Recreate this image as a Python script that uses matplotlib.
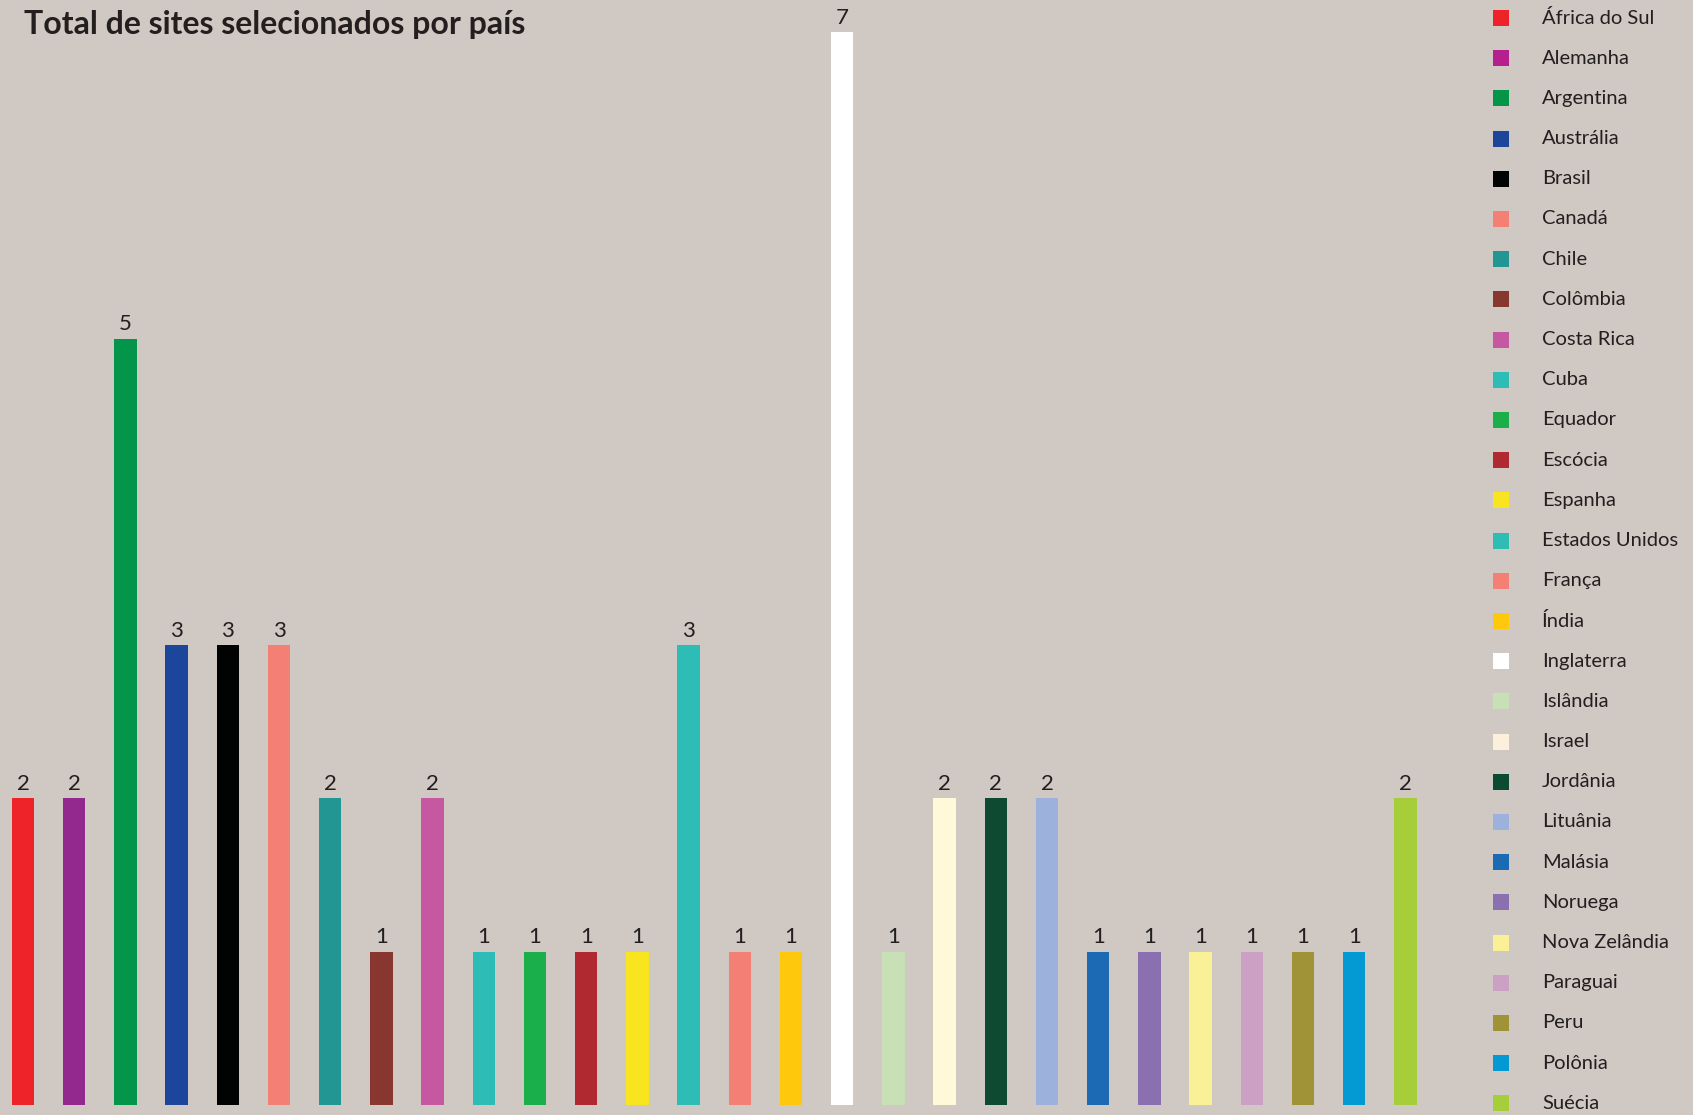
import matplotlib
matplotlib.use("Agg")
import matplotlib.pyplot as plt

countries = ["África do Sul", "Alemanha", "Argentina", "Austrália", "Brasil", "Canadá",
             "Chile", "Colômbia", "Costa Rica", "Cuba", "Equador", "Escócia", "Espanha",
             "Estados Unidos", "França", "Índia", "Inglaterra", "Islândia", "Israel",
             "Jordânia", "Lituânia", "Malásia", "Noruega", "Nova Zelândia", "Paraguai",
             "Peru", "Polônia", "Suécia"]
sites = [2, 2, 5, 3, 3, 3, 2, 1, 2, 1, 1, 1, 1, 3, 1, 1, 7, 1, 2, 2, 2, 1, 1, 1, 1, 1, 1, 2]
bar_colors = ["#EE2229", "#93298E", "#03964A", "#1C469C", "#010202", "#F48075",
              "#219692", "#87372F", "#C558A0", "#2EBCB6", "#1BAF4B", "#B02930", "#F8E41F",
              "#2EBCB6", "#F48075", "#FEC80C", "#FFFFFF", "#C8E0B6", "#FFF9DA",
              "#0E4A31", "#9CB1DC", "#1C69B4", "#8A6FB1", "#FAF098", "#CC9FC5",
              "#A09237", "#0399D3", "#A6CD3A"]
legend_colors = ["#EE2229", "#B5208E", "#03964A", "#1C469C", "#010202", "#F48075",
                 "#219692", "#87372F", "#C558A0", "#2EBCB6", "#1BAF4B", "#B02930", "#F8E41F",
                 "#2EBCB6", "#F48075", "#FEC80C", "#FFFFFF", "#C8E0B6", "#FCEFDB",
                 "#0E4A31", "#9CB1DC", "#1C69B4", "#8A6FB1", "#FAF098", "#CC9FC5",
                 "#A09237", "#0399D3", "#A6CD3A"]
title = "Total de sites selecionados por país"

BG = "#D0C8C2"
TXT = "#231F20"
W, H = 1693, 1115
fig = plt.figure(figsize=(W / 100, H / 100), dpi=100, facecolor=BG)

# main bar axes
ax = fig.add_axes([0, 10 / H, 1440 / W, 1105 / H])
ax.set_facecolor(BG)
x = list(range(len(countries)))
ax.bar(x, sites, width=0.44, color=bar_colors)
ax.set_xlim((0 - 23) / 51.2, (1440 - 23) / 51.2)
ax.set_ylim(0, 1105 / 153.3)
ax.axis("off")
for xi, v in zip(x, sites):
    ax.annotate(str(v), (xi, v), xytext=(0, 6), textcoords="offset points",
                ha="center", va="baseline", fontsize=16, color=TXT,
                family="Lato", fontweight="normal", annotation_clip=False)

# legend axes
lax = fig.add_axes([1480 / W, 0, (W - 1480) / W, 1])
lax.set_facecolor(BG)
lax.set_xlim(1480, W)
lax.set_ylim((H - 18) / 40.2, -18 / 40.2)
lax.axis("off")
rows = list(range(len(countries)))
lax.scatter([1501] * len(rows), rows, marker="s", s=132, c=legend_colors, linewidths=0)
for r, name in zip(rows, countries):
    lax.text(1542, r, name, va="center", ha="left", fontsize=14.5, color=TXT,
             family="Lato", fontweight="normal")

fig.text(24 / W, 1 - 34 / H, title, ha="left", va="baseline", fontsize=23,
         fontweight="bold", family="Lato", color=TXT)

fig.savefig("out.png", dpi=100, facecolor=BG)
